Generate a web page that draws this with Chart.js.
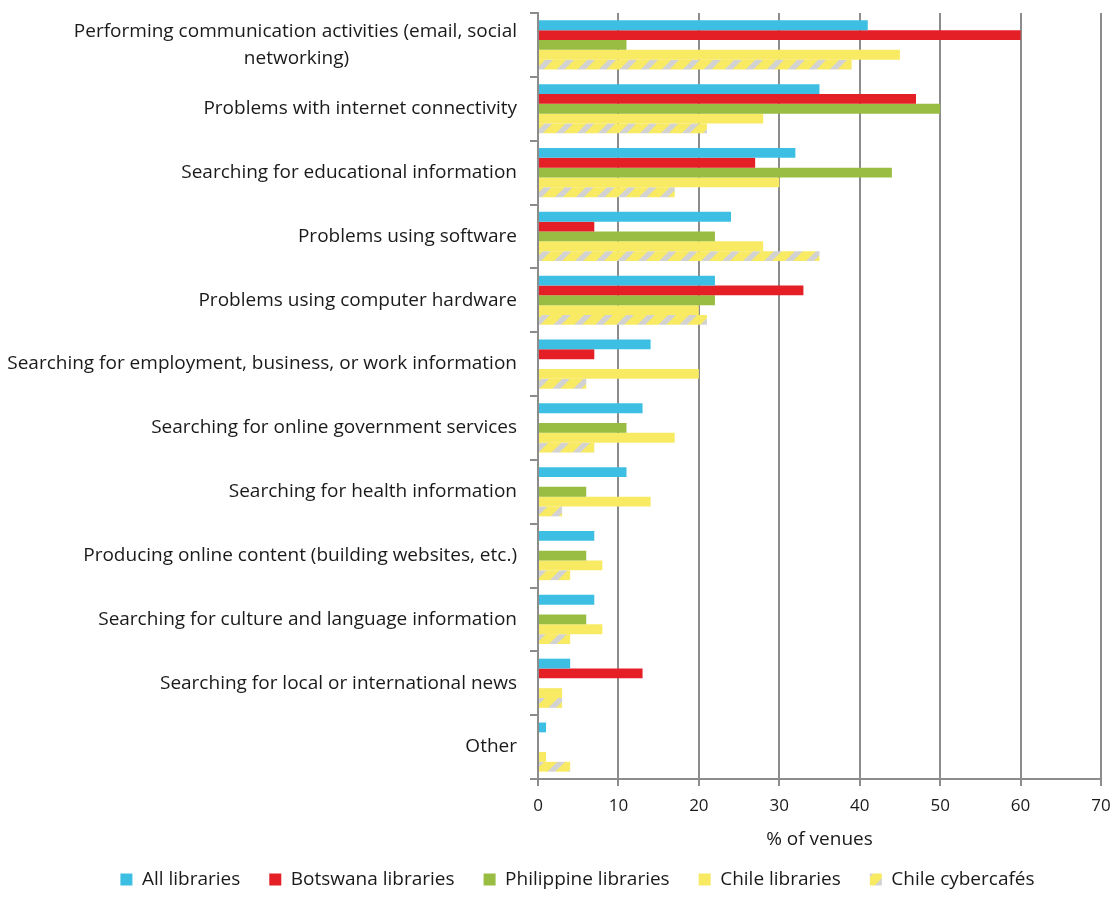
<!DOCTYPE html>
<html>
<head>
<meta charset="utf-8">
<script src="https://cdn.jsdelivr.net/npm/chart.js@4.4.1/dist/chart.umd.min.js"></script>
<style>
  html, body { margin: 0; padding: 0; background: #ffffff; }
  #wrap { width: 1114px; height: 917px; position: relative; }
</style>
</head>
<body>
<div id="wrap"><canvas id="chart"></canvas></div>
<script>
// Activities reported at public access venues (% of venues)
const categories = [
  ['Performing communication activities (email, social', 'networking)'],
  'Problems with internet connectivity',
  'Searching for educational information',
  'Problems using software',
  'Problems using computer hardware',
  'Searching for employment, business, or work information',
  'Searching for online government services',
  'Searching for health information',
  'Producing online content (building websites, etc.)',
  'Searching for culture and language information',
  'Searching for local or international news',
  'Other'
];
const seriesNames = ['All libraries', 'Botswana libraries', 'Philippine libraries', 'Chile libraries', 'Chile cybercafés'];
const allLibraries       = [41, 35, 32, 24, 22, 14, 13, 11, 7, 7, 4, 1];
const botswanaLibraries  = [60, 47, 27, 7, 33, 7, null, null, null, null, 13, null];
const philippineLibraries= [11, 50, 44, 22, 22, null, 11, 6, 6, 6, null, null];
const chileLibraries     = [45, 28, 30, 28, 20, 20, 17, 14, 8, 8, 3, 1];
const chileCybercafes    = [39, 21, 17, 35, 21, 6, 7, 3, 4, 4, 3, 4];
const xTicks = [0, 10, 20, 30, 40, 50, 60, 70];

const FONT = '"Open Sans"';
const LABEL_SIZE = 19;

// yellow fill with grey diagonal stripes
function makeHatch() {
  const s = 21;
  const c = document.createElement('canvas');
  c.width = s; c.height = s;
  const g = c.getContext('2d');
  g.fillStyle = '#f8ea63';
  g.fillRect(0, 0, s, s);
  g.strokeStyle = '#d2d2d2';
  g.lineWidth = 5.5;
  for (const k of [0, s, 2 * s]) {
    g.beginPath();
    g.moveTo(-s, k + s);
    g.lineTo(k + s, -s);
    g.stroke();
  }
  return g.createPattern(c, 'repeat');
}
const hatch = makeHatch();

// centre the second line of a wrapped label under the first (labels are right-aligned)
const measure = document.createElement('canvas').getContext('2d');
function centreLines(label) {
  if (!Array.isArray(label)) return label;
  const w0 = measure.measureText(label[0]).width;
  const space = measure.measureText(' ').width;
  return label.map((line, i) => {
    if (i === 0) return line;
    const w = measure.measureText(line).width;
    const n = Math.max(0, Math.round((w0 - w) / 2 / space));
    return line + ' '.repeat(n);
  });
}

const fills = ['#3cbfe3', '#e41f26', '#99bd42', '#f8ea63', hatch];
const values = [allLibraries, botswanaLibraries, philippineLibraries, chileLibraries, chileCybercafes];

const datasets = seriesNames.map((name, i) => ({
  label: name,
  data: values[i],
  backgroundColor: fills[i],
  borderWidth: 0,
  categoryPercentage: 0.77,
  barPercentage: 1.0
}));

const gridGrey = '#8c8c8c';
const textColour = '#1a1a1a';

// nudge the legend row to the right of the canvas centre
const legendShift = {
  id: 'legendShift',
  afterLayout(chart) {
    if (chart.legend) {
      chart.legend.left += 27;
      chart.legend.right += 27;
    }
  }
};

document.fonts.load(LABEL_SIZE + 'px ' + FONT).then(() => {
  measure.font = LABEL_SIZE + 'px ' + FONT;
  new Chart(document.getElementById('chart'), {
    type: 'bar',
    data: { labels: categories.map(centreLines), datasets },
    plugins: [legendShift],
    options: {
      indexAxis: 'y',
      responsive: true,
      maintainAspectRatio: false,
      animation: false,
      layout: { padding: { left: 0, right: 13, top: 13, bottom: 18 } },
      plugins: {
        tooltip: { enabled: false },
        legend: {
          position: 'bottom',
          labels: {
            boxWidth: 12,
            boxHeight: 12,
            padding: 29,
            color: textColour,
            font: { family: FONT, size: LABEL_SIZE }
          }
        }
      },
      scales: {
        x: {
          min: 0,
          max: 70,
          afterBuildTicks: (scale) => { scale.ticks = xTicks.map(v => ({ value: v })); },
          afterFit: (scale) => {
            scale.height = 62;
            scale.paddingLeft = 0;
            scale.paddingRight = 0;
          },
          grid: {
            color: gridGrey,
            lineWidth: 2,
            tickLength: 7
          },
          border: { color: gridGrey, width: 2 },
          ticks: {
            color: textColour,
            padding: 10,
            font: { family: FONT, size: 17 }
          },
          title: {
            display: true,
            text: '% of venues',
            color: textColour,
            padding: { top: 0, bottom: -10 },
            font: { family: FONT, size: LABEL_SIZE }
          }
        },
        y: {
          afterFit: (scale) => {
            scale.width = 538;
            scale.paddingTop = 0;
            scale.paddingBottom = 0;
          },
          grid: {
            offset: true,
            drawOnChartArea: false,
            color: gridGrey,
            lineWidth: 2,
            tickLength: 8
          },
          border: { color: gridGrey, width: 2 },
          ticks: {
            color: textColour,
            padding: 13,
            autoSkip: false,
            font: { family: FONT, size: LABEL_SIZE, lineHeight: 1.42 }
          }
        }
      }
    }
  });
});
</script>
</body>
</html>
